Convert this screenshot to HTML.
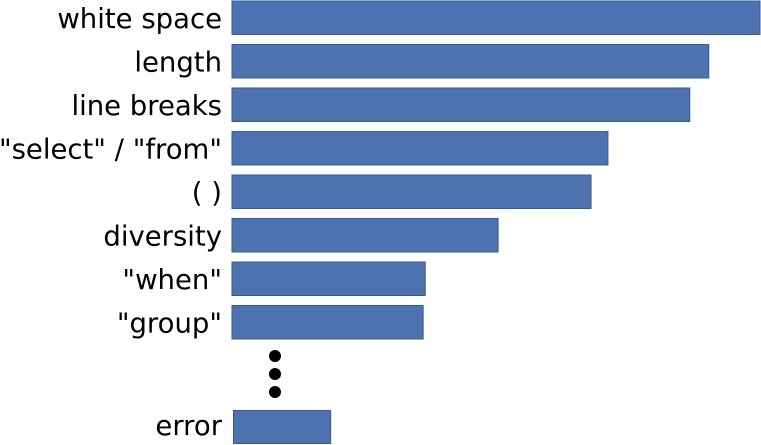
<!DOCTYPE html>
<html><head><meta charset="utf-8"><style>
html,body{margin:0;padding:0;background:#fff;width:761px;height:445px;overflow:hidden}
svg text{font-family:"DejaVu Sans","Liberation Sans",sans-serif;font-size:27.5px;fill:#000}
</style></head><body>
<svg id="chart" width="761" height="445"></svg>
<script>
const categories=["white space","length","line breaks","\"select\" / \"from\"","( )","diversity","\"when\"","\"group\""];
const values=[100,90.3,86.7,71.2,68,50.4,36.6,36.2];
const errorLabel="error";
const errorValue=18.4;
const svg=document.getElementById('chart');
const NS='http://www.w3.org/2000/svg';
const x0=232, xMax=760;
function xs(v){return (xMax-x0)*v/100;}
function ys(i){return 1+i*43.5;}
function mk(t,a){const e=document.createElementNS(NS,t);for(const k in a)e.setAttribute(k,a[k]);svg.appendChild(e);return e;}
categories.forEach((c,i)=>{
  const r=mk('rect',{x:x0,y:ys(i),width:xs(values[i]),height:33.5,fill:'#4c72b0',stroke:'#3a5a8e','stroke-width':1});
  
  
  const t=mk('text',{x:222,y:ys(i)+27,'text-anchor':'end'});
  t.textContent=c;
  
  
});
[356,374,392].forEach(cy=>{
  const d=mk('circle',{cx:275,cy:cy,r:6,fill:'#000'});
  
  
});
const er=mk('rect',{x:233.5,y:410.5,width:xs(errorValue),height:33,fill:'#4c72b0',stroke:'#3a5a8e','stroke-width':1});


const et=mk('text',{x:222,y:435,'text-anchor':'end'});
et.textContent=errorLabel;


</script>
</body></html>
